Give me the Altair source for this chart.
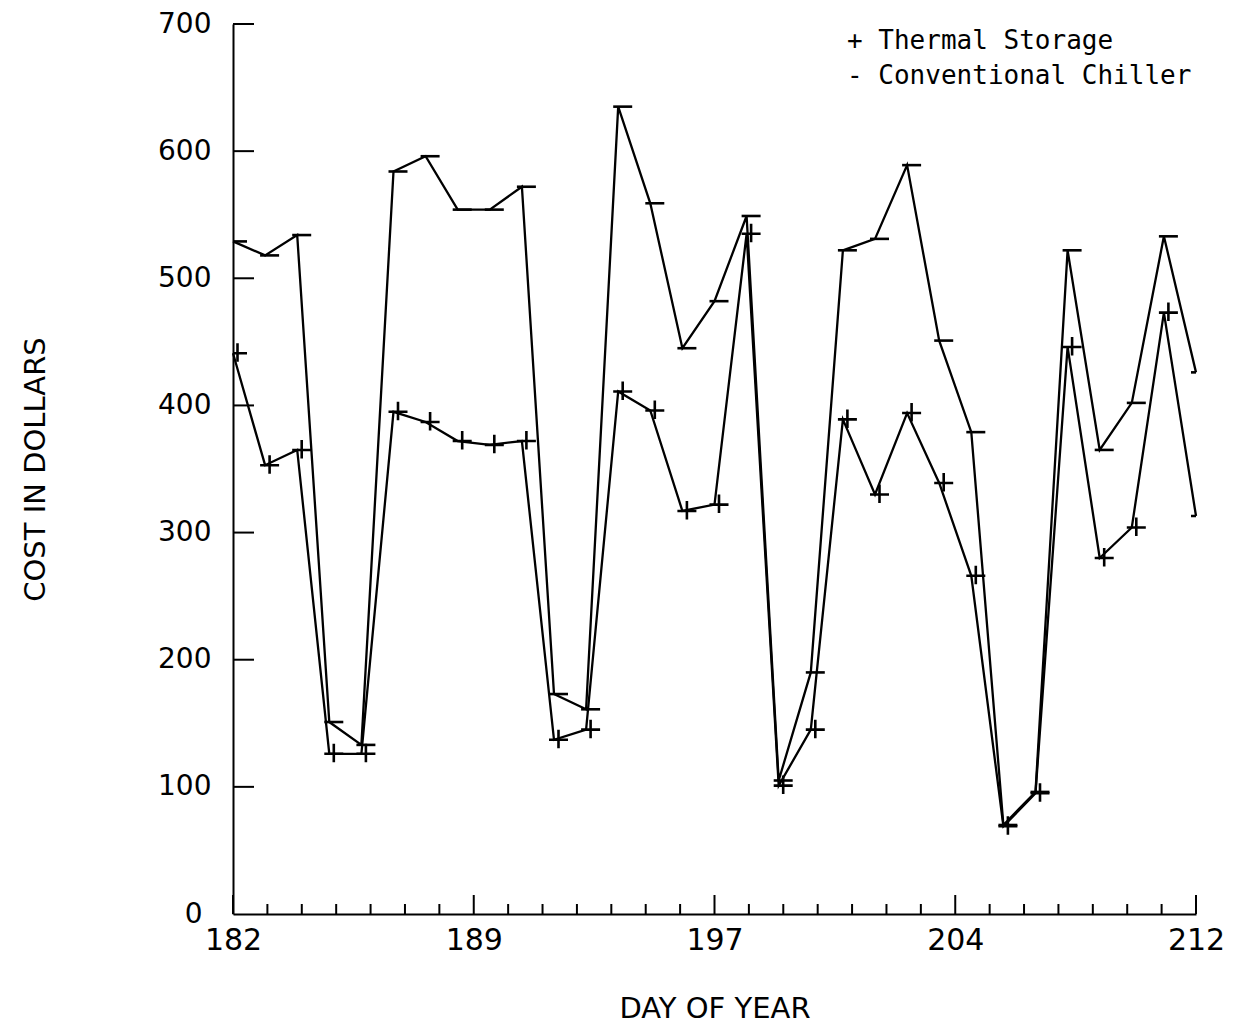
import altair as alt
import pandas as pd

# Daily cooling cost, days 182-212
days = list(range(182, 213))
thermal_storage = [441, 353, 365, 126, 126, 395, 387, 372, 369, 372, 137, 145, 411, 396, 317,
                   322, 535, 101, 145, 389, 330, 394, 339, 266, 69, 95, 446, 280, 304, 473, 313]
conventional_chiller = [529, 518, 534, 151, 133, 584, 596, 554, 554, 572, 173, 161, 635, 559, 445,
                        482, 549, 105, 190, 522, 531, 589, 451, 379, 70, 96, 522, 365, 402, 533, 426]

series_names = ["Thermal Storage", "Conventional Chiller"]
legend_lines = ["+ Thermal Storage", "- Conventional Chiller"]

y_tick_values = [0, 100, 200, 300, 400, 500, 600, 700]
x_label_values = [182, 189.5, 197, 204.5, 212]
x_min, x_max = 182, 212
minor_intervals = 28

W, H = 963, 890
LABEL_FONT = "DejaVu Sans"

df = pd.DataFrame({
    "day": days * 2,
    "cost": thermal_storage + conventional_chiller,
    "series": [series_names[0]] * len(days) + [series_names[1]] * len(days),
})

minor_ticks = pd.DataFrame({
    "day": [x_min + k * (x_max - x_min) / minor_intervals for k in range(minor_intervals + 1)],
})
minor_ticks["major"] = [k % 7 == 0 for k in range(minor_intervals + 1)]
y_ticks = pd.DataFrame({"cost": [v for v in y_tick_values if v > 0]})

x_scale = alt.Scale(domain=[x_min, x_max], nice=False, zero=False)
y_scale = alt.Scale(domain=[0, 700], nice=False)

x_axis = alt.Axis(
    values=x_label_values, labelExpr="floor(datum.value)", ticks=False, grid=False,
    labelFlush=False, labelOverlap=False,
    domainColor="black", domainWidth=2, labelColor="black", labelFont=LABEL_FONT,
    labelFontSize=30, labelPadding=11, title="DAY OF YEAR", titleFont=LABEL_FONT,
    titleFontSize=29, titleFontWeight="normal", titleColor="black",
    titleY=103, titleBaseline="alphabetic",
)
y_axis = alt.Axis(
    values=y_tick_values, ticks=False, grid=False, domainColor="black", domainWidth=2,
    labelColor="black", labelFont=LABEL_FONT, labelFontSize=28,
    # the zero label sits a little further out, clear of the day labels
    labelPadding={"condition": {"test": "datum.value == 0", "value": 31}, "value": 22},
    labelFlush=False, labelOverlap=False,
    title="COST IN DOLLARS", titleFont=LABEL_FONT, titleFontSize=29,
    titleFontWeight="normal", titleColor="black", titleX=-189, titleY=H / 2,
    titleBaseline="alphabetic",
)

lines = alt.Chart(df).mark_line(color="black", strokeWidth=2.3).encode(
    x=alt.X("day:Q", scale=x_scale, axis=x_axis),
    y=alt.Y("cost:Q", scale=y_scale, axis=y_axis),
    detail="series:N",
)

# plotter-style markers: drawn just right of each vertex
PLUS_PATH = "M-0.5,0H1.4M0.45,-1V0.85"
DASH_PATH = "M-0.5,0H1.4"

def markers(name, path):
    return alt.Chart(df).transform_filter(alt.datum.series == name).mark_point(
        shape=path, size=400, filled=False, stroke="black", strokeWidth=2.6,
        opacity=1, clip=True,
    ).encode(x=alt.X("day:Q", scale=x_scale), y=alt.Y("cost:Q", scale=y_scale))

thermal_marks = markers(series_names[0], PLUS_PATH)
chiller_marks = markers(series_names[1], DASH_PATH)

# inward tick marks on both axes
x_minor = alt.Chart(minor_ticks).transform_filter(~alt.datum.major).mark_rule(
    color="black", strokeWidth=2).encode(
    x=alt.X("day:Q", scale=x_scale), y=alt.value(H), y2=alt.value(H - 10))
x_major = alt.Chart(minor_ticks).transform_filter(alt.datum.major).mark_rule(
    color="black", strokeWidth=2).encode(
    x=alt.X("day:Q", scale=x_scale), y=alt.value(H), y2=alt.value(H - 19))
y_rules = alt.Chart(y_ticks).mark_rule(color="black", strokeWidth=2).encode(
    y=alt.Y("cost:Q", scale=y_scale), x=alt.value(0), x2=alt.value(21))

legend_font = dict(align="left", baseline="alphabetic", font="DejaVu Sans Mono",
                   fontSize=26, color="black")
legend1 = alt.Chart(pd.DataFrame({"t": [legend_lines[0]]})).mark_text(**legend_font).encode(
    text="t:N", x=alt.value(614), y=alt.value(25))
legend2 = alt.Chart(pd.DataFrame({"t": [legend_lines[1]]})).mark_text(**legend_font).encode(
    text="t:N", x=alt.value(614), y=alt.value(60))

chart = alt.layer(
    lines, x_minor, x_major, y_rules, thermal_marks, chiller_marks, legend1, legend2
).properties(
    width=W, height=H,
    autosize=alt.AutoSizeParams(type="none"),
    padding={"left": 233, "top": 24, "right": 37, "bottom": 112},
    background="white",
).configure_view(stroke=None)

chart.save("out.html", embed_options={"renderer": "svg", "actions": False})
